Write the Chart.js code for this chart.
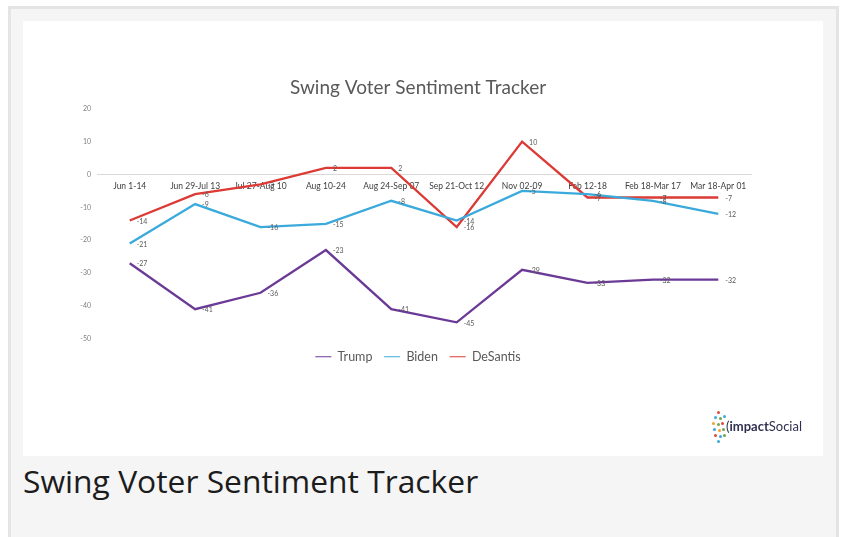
<!DOCTYPE html>
<html>
<head>
<meta charset="utf-8">
<script src="https://cdn.jsdelivr.net/npm/chart.js@4.4.1/dist/chart.umd.min.js"></script>
<style>
  body { margin: 0; background: #fff; width: 842px; height: 537px; overflow: hidden; position: relative; }
  #card { position: absolute; left: 8px; top: 6px; width: 825px; height: 540px;
          border: 3px solid #e4e4e4; background: #f5f5f5; }
  #plot { position: absolute; left: 23px; top: 21px; width: 800px; height: 435px; background: #fff; }
  #caption { position: absolute; left: 23px; top: 459px; font-family: "Open Sans", sans-serif;
             font-size: 31.8px; color: #1c1c1c; white-space: nowrap; }
  #logo { position: absolute; left: 711px; top: 410px; width: 100px; height: 36px; }
  #logo i { position: absolute; width: 3px; height: 3px; border-radius: 50%; }
  #logo span { position: absolute; left: 15px; top: 8px; font-family: Lato, sans-serif; font-size: 13px;
               color: #2e3150; white-space: nowrap; }
</style>
</head>
<body>
<div id="card"></div>
<div id="plot"><canvas id="myChart" width="800" height="435"></canvas></div>
<div id="caption">Swing Voter Sentiment Tracker</div>
<div id="logo">
  <i style="left:6px;top:1px;background:#e0463c"></i>
  <i style="left:3px;top:6px;background:#3aa9dc"></i>
  <i style="left:8px;top:7px;background:#6aa84f"></i>
  <i style="left:12px;top:5px;background:#3aa9dc"></i>
  <i style="left:1px;top:12px;background:#f0a030"></i>
  <i style="left:6px;top:13px;background:#6aa84f"></i>
  <i style="left:10px;top:12px;background:#e0463c"></i>
  <i style="left:2px;top:18px;background:#3aa9dc"></i>
  <i style="left:7px;top:19px;background:#f0a030"></i>
  <i style="left:11px;top:18px;background:#6aa84f"></i>
  <i style="left:3px;top:24px;background:#e0463c"></i>
  <i style="left:8px;top:25px;background:#3aa9dc"></i>
  <i style="left:12px;top:24px;background:#6aa84f"></i>
  <i style="left:6px;top:30px;background:#3aa9dc"></i>
  <span>(<b>impact</b>Social</span>
</div>
<script>
// catégories (périodes)
const labels = ["Jun 1-14", "Jun 29-Jul 13", "Jul 27-Aug 10", "Aug 10-24", "Aug 24-Sep 07",
  "Sep 21-Oct 12", "Nov 02-09", "Feb 12-18", "Feb 18-Mar 17", "Mar 18-Apr 01"];
const trump = [-27, -41, -36, -23, -41, -45, -29, -33, -32, -32];
const biden = [-21, -9, -16, -15, -8, -14, -5, -6, -8, -12];
const desantis = [-14, -6, -3, 2, 2, -16, 10, -7, -7, -7];
const yTicks = [20, 10, 0, -10, -20, -30, -40, -50];

Chart.defaults.font.family = "Lato, sans-serif";

// étiquettes de valeurs à droite de chaque point
const valueLabels = {
  id: "valueLabels",
  afterDatasetsDraw(chart) {
    const ctx = chart.ctx;
    ctx.save();
    ctx.font = "7px Lato, sans-serif";
    ctx.fillStyle = "#595959";
    ctx.textAlign = "left";
    ctx.textBaseline = "middle";
    chart.data.datasets.forEach((ds, i) => {
      chart.getDatasetMeta(i).data.forEach((pt, j) => {
        ctx.fillText(ds.data[j], pt.x + 7, pt.y + 1);
      });
    });
    ctx.restore();
  }
};

const data = {
  labels: labels,
  datasets: [
    { label: "Trump", data: trump, borderColor: "#6b3a96", backgroundColor: "#6b3a96" },
    { label: "Biden", data: biden, borderColor: "#3aaadc", backgroundColor: "#3aaadc" },
    { label: "DeSantis", data: desantis, borderColor: "#dc3a35", backgroundColor: "#dc3a35" },
  ],
};

const config = {
  type: "line",
  data: data,
  plugins: [valueLabels],
  options: {
    responsive: false,
    animation: false,
    elements: {
      point: { radius: 0 },
      line: { borderWidth: 2.3, tension: 0 },
    },
    // droite 10 + axe vide de 62 -> titre et légende centrés comme l'original
    layout: { padding: { left: 0, right: 10, top: 0, bottom: 83 } },
    plugins: {
      title: {
        display: true,
        text: "Swing Voter Sentiment Tracker",
        color: "#595959",
        font: { size: 19, weight: "normal" },
        padding: { top: 55, bottom: 10 },
      },
      legend: {
        position: "bottom",
        labels: {
          usePointStyle: true,
          pointStyle: "line",
          pointStyleWidth: 16,
          color: "#595959",
          font: { size: 12.5 },
          padding: 11.75,
        },
      },
      tooltip: { enabled: false },
    },
    scales: {
      x: {
        position: { y: 0 },
        offset: true,
        grid: { display: false, drawTicks: false },
        border: { display: true, color: "#d9d9d9", width: 1 },
        ticks: { color: "#404040", font: { size: 8.5 }, padding: 7, maxRotation: 0, autoSkip: false },
      },
      y: {
        min: -50,
        max: 20,
        grid: { display: false, drawTicks: false },
        border: { display: false },
        afterFit(scale) { scale.width = 74; },
        afterBuildTicks(scale) { scale.ticks = yTicks.map(v => ({ value: v })); },
        ticks: { color: "#808080", font: { size: 7 }, padding: 6 },
      },
      yRight: {
        type: "linear",
        position: "right",
        grid: { display: false, drawTicks: false },
        border: { display: false },
        ticks: { display: false },
        afterFit(scale) { scale.width = 62; },
      },
    },
  },
};

context = document.getElementById("myChart").getContext("2d");
chart = new Chart(context, config);
</script>
</body>
</html>
